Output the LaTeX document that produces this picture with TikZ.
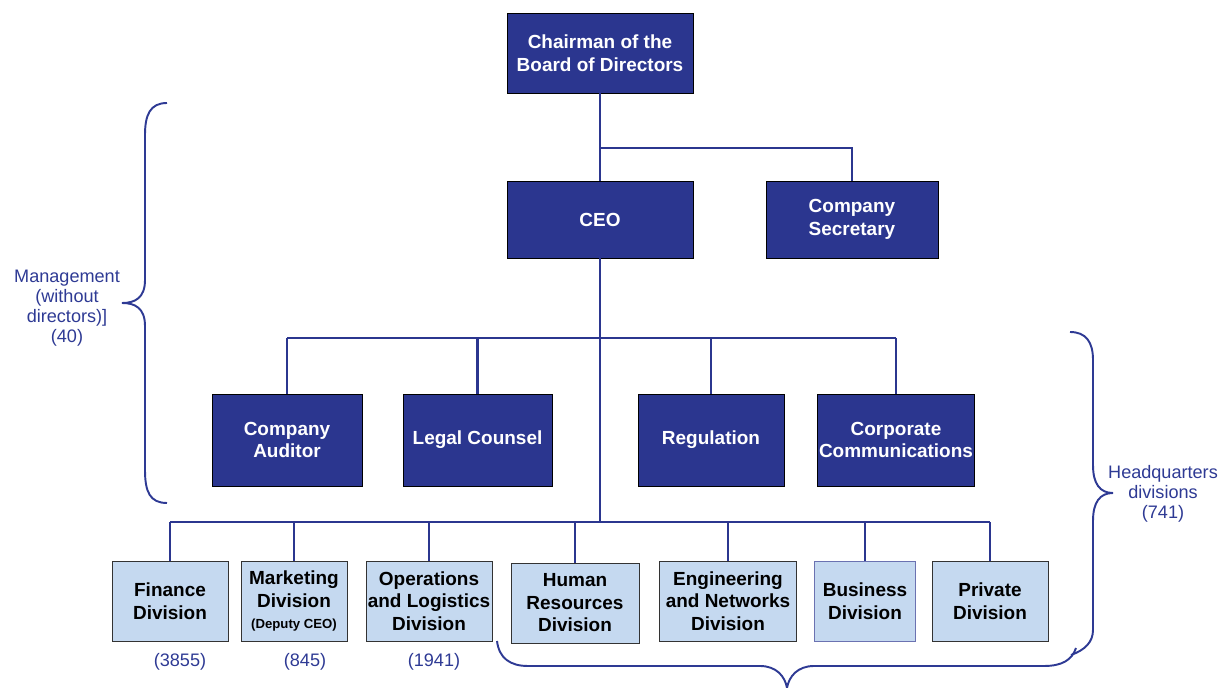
\documentclass[tikz,border=0pt]{standalone}
\usepackage{fontspec}
\setmainfont{Liberation Sans}
\usetikzlibrary{positioning}
\definecolor{orgblue}{RGB}{43,54,143}
\definecolor{orglight}{RGB}{197,217,240}
\definecolor{bracecol}{RGB}{46,58,148}
\tikzset{
    headbox/.style={
           rectangle,
           draw=black, thin,
           fill=orgblue,
           text=white,
           minimum height=1.6cm,
           inner sep=1pt,
           align=center,
           font=\fontsize{10.8}{12.8}\selectfont\bfseries
           },
    divbox/.style={
           rectangle,
           draw=black!80, thin,
           fill=orglight,
           text=black,
           minimum height=1.6cm,
           inner sep=1pt,
           align=center,
           font=\fontsize{10.8}{12.8}\selectfont\bfseries
           },
    link/.style={
           draw=orgblue,
           line width=1.4pt
           },
    brace/.style={
           draw=bracecol,
           line width=1.1pt
           },
    count/.style={
           text=bracecol,
           align=center,
           font=\fontsize{10.3}{11.3}\selectfont
           }
}

\begin{document}
\begin{tikzpicture}[x=0.02cm, y=-0.02cm, node distance=1.5cm, on grid]
\useasboundingbox (0,0) rectangle (1231,688);
% top of the tree
   \node[headbox, minimum width=3.72cm] (chair) at (600,53) {Chairman of the\\Board of Directors};
   \node[headbox, minimum width=3.72cm, minimum height=1.54cm] (ceo) at (600,219.5) {CEO};
   \node[headbox, minimum width=3.44cm, minimum height=1.54cm] (sec) [right=5.04cm of ceo] {Company\\Secretary};
% staff units
   \node[headbox, minimum width=3.0cm, minimum height=1.84cm] (aud) at (287,440) {Company\\Auditor};
   \node[headbox, minimum width=2.98cm, minimum height=1.84cm] (legal) at (477.5,440) {Legal Counsel};
   \node[headbox, minimum width=2.92cm, minimum height=1.84cm] (reg) at (711,440) {Regulation};
   \node[headbox, minimum width=3.12cm, minimum height=1.84cm] (comm) at (896,440) {Corporate\\Communications};
% divisions
   \node[divbox, minimum width=2.32cm] (fin) at (170,601) {Finance\\Division};
   \node[divbox, minimum width=2.12cm] (mkt) at (294,601) {Marketing\\Division\\[-1pt]{\fontsize{7.5}{9}\selectfont(Deputy CEO)}};
   \node[divbox, minimum width=2.48cm] (ops) at (429,601) {Operations\\and Logistics\\Division};
   \node[divbox, minimum width=2.56cm] (hr) at (575,603) {Human\\Resources\\Division};
   \node[divbox, minimum width=2.74cm] (eng) at (728,601) {Engineering\\and Networks\\Division};
   \node[divbox, minimum width=2.02cm, draw=orgblue!70] (bus) at (865,601) {Business\\Division};
   \node[divbox, minimum width=2.32cm] (prv) at (990,601) {Private\\Division};
% head counts
   \node[count] (cfin) at (180,662) {(3855)};
   \node[count] (cmkt) at (305,662) {(845)};
   \node[count] (cops) at (434,662) {(1941)};
   \node[count] (mgmt) at (67,308) {Management\\(without\\directors)]\\(40)};
   \node[count] (hq) at (1163,494) {Headquarters\\divisions\\(741)};
% connectors
   \coordinate (j1) at (600,148);
   \coordinate (j2) at (600,338);
   \coordinate (j3) at (600,522);
   \draw[link] (chair) -- (ceo);
   \draw[link] (j1) -| (sec.north);
   \draw[link] (ceo.south) -- (j3);
   \draw[link] (aud.north |- j2) -- (comm.north |- j2);
   \foreach \n in {aud,legal,reg,comm}
      \draw[link] (\n.north |- j2) -- (\n.north);
   \draw[link] (fin.north |- j3) -- (prv.north |- j3);
   \foreach \n in {fin,mkt,ops,hr,eng,bus,prv}
      \draw[link] (\n.north |- j3) -- (\n.north);
% braces
   \draw[brace] (167,103) .. controls (150,103) and (145,115) .. (145,135)
      -- (145,280) .. controls (145,298) and (135,303) .. (122,303)
      .. controls (135,303) and (145,308) .. (145,326)
      -- (145,470) .. controls (145,492) and (150,503) .. (167,503);
   \draw[brace] (1070,332) .. controls (1086,332) and (1093,342) .. (1093,360)
      -- (1093,465) .. controls (1093,484) and (1100,493) .. (1113,493)
      .. controls (1100,493) and (1093,502) .. (1093,521)
      -- (1093,630) .. controls (1093,642) and (1085,650) .. (1071,655);
   \draw[brace] (497,641) .. controls (499,658) and (510,666) .. (528,666)
      -- (760,666) .. controls (776,666) and (785,676) .. (787,688)
      .. controls (789,676) and (798,666) .. (814,666)
      -- (1044,666) .. controls (1062,666) and (1072,660) .. (1076,648);
\end{tikzpicture}
\end{document}
